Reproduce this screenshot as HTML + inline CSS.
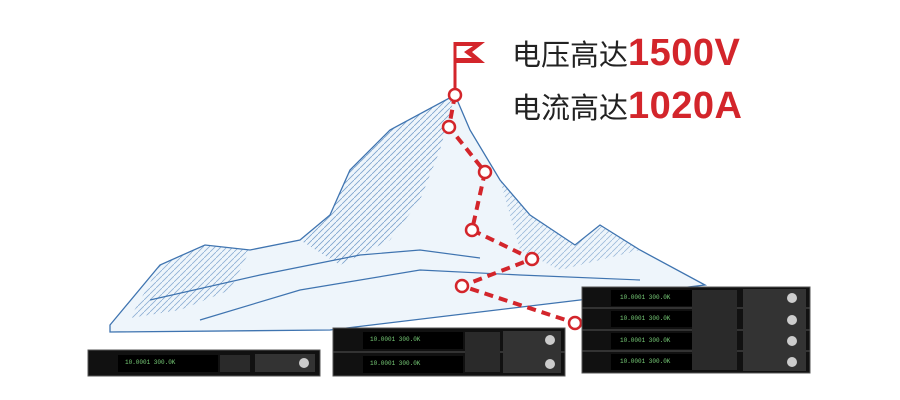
<!DOCTYPE html>
<html><head><meta charset="utf-8"><style>
html,body{margin:0;padding:0;background:#fff;width:900px;height:400px;overflow:hidden}
.t{position:absolute;left:512px;font-family:"Liberation Sans","Noto Sans CJK SC",sans-serif;font-size:29px;color:#222;white-space:nowrap;line-height:1}
.t b{color:#d3252b;font-size:38px;font-weight:900;letter-spacing:0.5px}
</style></head><body>
<svg width="900" height="400" style="position:absolute;left:0;top:0">
<defs><pattern id="h" width="6" height="6" patternUnits="userSpaceOnUse"><path d="M0 6 L6 0" stroke="#4a7fb8" stroke-width="0.8"/></pattern></defs>
<polygon points="110,325 160,265 205,245 250,250 300,240 330,215 350,170 390,130 455,95 470,130 500,180 530,215 575,245 600,225 640,250 705,285 580,300 330,330 110,332" fill="#eef5fb" stroke="#3f74b0" stroke-width="1.3"/>
<polygon points="300,240 330,215 350,170 390,130 455,95 440,150 420,200 390,240 340,265" fill="url(#h)" opacity="0.7"/>
<polygon points="160,265 205,245 250,250 230,290 180,310 130,318" fill="url(#h)" opacity="0.6"/>
<polygon points="500,180 530,215 575,245 600,225 640,250 560,270 520,250" fill="url(#h)" opacity="0.5"/>
<polyline points="150,300 260,275 360,255 420,250 480,258" fill="none" stroke="#3f74b0" stroke-width="1.2"/>
<polyline points="200,320 300,290 420,270 520,275 640,280" fill="none" stroke="#3f74b0" stroke-width="1.2"/>
<polyline points="455,95 449,127 485,172 472,230 532,259 462,286 575,323" fill="none" stroke="#d3252b" stroke-width="4" stroke-dasharray="9,6"/>
<g fill="#fff" stroke="#d3252b" stroke-width="2.5">
<circle cx="455" cy="95" r="6"/><circle cx="449" cy="127" r="6"/><circle cx="485" cy="172" r="6"/><circle cx="472" cy="230" r="6"/><circle cx="532" cy="259" r="6"/><circle cx="462" cy="286" r="6"/><circle cx="575" cy="323" r="6"/>
</g>
<line x1="455" y1="89" x2="455" y2="42" stroke="#d3252b" stroke-width="3"/>
<polygon points="455,42 485,42 472,52 485,63 455,63 455,58 472,58 464,52 473,46 455,46" fill="#d3252b"/>
<g>
<rect x="88" y="350" width="232" height="26" fill="#111" stroke="#555"/>
<rect x="118" y="355" width="100" height="17" fill="#000"/>
<rect x="220" y="355" width="30" height="17" fill="#2a2a2a"/>
<rect x="255" y="354" width="60" height="18" fill="#333"/>
<circle cx="304" cy="363" r="5" fill="#ccc"/>
<text x="125" y="364" fill="#7c7" font-size="6" font-family="Liberation Mono">10.0001   300.0K</text>
</g>
<g>
<rect x="333" y="328" width="232" height="48" fill="#111" stroke="#555"/>
<line x1="333" y1="352" x2="565" y2="352" stroke="#555"/>
<rect x="363" y="332" width="100" height="17" fill="#000"/><rect x="363" y="356" width="100" height="17" fill="#000"/>
<rect x="465" y="332" width="35" height="40" fill="#2a2a2a"/>
<rect x="503" y="331" width="58" height="42" fill="#333"/>
<circle cx="550" cy="340" r="5" fill="#ccc"/><circle cx="550" cy="364" r="5" fill="#ccc"/>
<text x="370" y="341" fill="#7c7" font-size="6" font-family="Liberation Mono">10.0001   300.0K</text>
<text x="370" y="365" fill="#7c7" font-size="6" font-family="Liberation Mono">10.0001   300.0K</text>
</g>
<g>
<rect x="582" y="287" width="228" height="86" fill="#111" stroke="#555"/>
<line x1="582" y1="308" x2="810" y2="308" stroke="#555"/><line x1="582" y1="330" x2="810" y2="330" stroke="#555"/><line x1="582" y1="351" x2="810" y2="351" stroke="#555"/>
<rect x="611" y="290" width="100" height="16" fill="#000"/><rect x="611" y="311" width="100" height="16" fill="#000"/><rect x="611" y="333" width="100" height="16" fill="#000"/><rect x="611" y="354" width="100" height="16" fill="#000"/>
<rect x="692" y="290" width="45" height="80" fill="#2a2a2a"/>
<rect x="743" y="289" width="63" height="82" fill="#333"/>
<circle cx="792" cy="298" r="5" fill="#ccc"/><circle cx="792" cy="320" r="5" fill="#ccc"/><circle cx="792" cy="341" r="5" fill="#ccc"/><circle cx="792" cy="362" r="5" fill="#ccc"/>
<text x="620" y="299" fill="#7c7" font-size="6" font-family="Liberation Mono">10.0001   300.0K</text>
<text x="620" y="320" fill="#7c7" font-size="6" font-family="Liberation Mono">10.0001   300.0K</text>
<text x="620" y="342" fill="#7c7" font-size="6" font-family="Liberation Mono">10.0001   300.0K</text>
<text x="620" y="363" fill="#7c7" font-size="6" font-family="Liberation Mono">10.0001   300.0K</text>
</g>
</svg>
<div class="t" style="top:34px">电压高达<b>1500V</b></div>
<div class="t" style="top:87px">电流高达<b>1020A</b></div>
</body></html>
